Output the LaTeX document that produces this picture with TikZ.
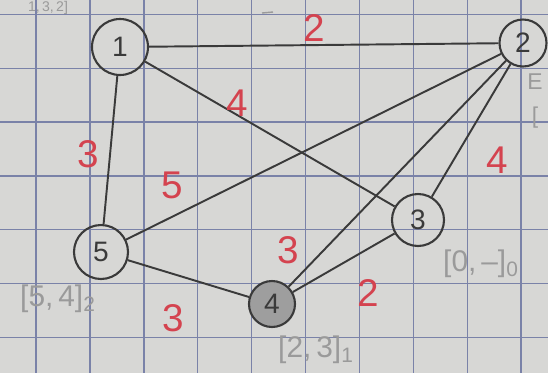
\documentclass[tikz,border=0pt]{standalone}
\usepackage{fontspec}
\setmainfont{Liberation Sans}
\usetikzlibrary{positioning}
\definecolor{paper}{HTML}{D7D7D5}
\definecolor{gridblue}{HTML}{7A82A8}
\definecolor{pencil}{HTML}{3A3A3A}
\definecolor{redink}{HTML}{D4434F}
\definecolor{faint}{HTML}{9A9A9A}
\definecolor{shade}{HTML}{9E9E9E}
\tikzset{
  vertex/.style={circle,draw=pencil,line width=1.2pt,inner sep=0pt,minimum size=1.0cm,font=\fontsize{16}{18}\selectfont,text=pencil},
  visited/.style={vertex,fill=shade},
  edge/.style={line width=1.1pt,draw=pencil},
  weight/.style={text=redink,font=\fontsize{22}{24}\selectfont,inner sep=0pt},
  note/.style={text=faint,font=\fontsize{17}{19}\selectfont,inner sep=0pt},
  gridline/.style={line width=0.8pt,draw=gridblue}
}

\begin{document}
\begin{tikzpicture}[x=0.02cm,y=-0.02cm]
    \fill[paper] (0,0) rectangle (548,373);
    \useasboundingbox (0,0) rectangle (548,373);
    % squared paper
    \foreach \i in {0,...,9}
      \draw[gridline] ({36+53.9*\i},0) -- ({36+53.9*\i},373);
    \foreach \j in {0,...,6}
      \draw[gridline] (0,{14.5+53.8*\j}) -- (548,{14.5+53.8*\j});

    % vertices
    \node[vertex,minimum size=1.12cm] (n1) at (120,47) {1};
    \node[vertex,minimum size=0.94cm] (n2) at (523,43) {2};
    \node[vertex,minimum size=1.04cm] (n3) at (418,220) {3};
    \node[visited,minimum size=0.92cm] (n4) at (272,304) {4};
    \node[vertex,minimum size=1.08cm] (n5) at (101,252) {5};

    \foreach \a/\b in {n1/n2,n1/n5,n1/n3,n2/n5,n2/n3,n2/n4,n3/n4,n5/n4}
      \draw[edge] (\a) -- (\b);

    % weights
    \node[weight] (w12) at (314,28) {2};
    \node[weight] (w15) at (88,154) {3};
    \node[weight] (w13) at (237,103) {4};
    \node[weight] (w25) at (172,185) {5};
    \node[weight] (w23) at (497,160) {4};
    \node[weight] (w24) at (288,250) {3};
    \node[weight] (w34) at (368,293) {2};
    \node[weight] (w54) at (173,318) {3};

    % pencil notes
    \node[note] (t5) at (58,299) {[5,\,4]\textsubscript{2}};
    \node[note] (t4) at (316,350) {[2,\,3]\textsubscript{1}};
    \node[note] (t3) at (481,264) {[0,\,--]\textsubscript{0}};
    \node[note,anchor=north,font=\fontsize{8}{9}\selectfont] (t1) at (48,1) {1,\,3,\,2]};
    \node[note,font=\fontsize{13}{15}\selectfont] (t2a) at (535,82) {E};
    \node[note,font=\fontsize{13}{15}\selectfont] (t2b) at (535,118) {[};
    \draw[faint,line width=0.8pt] (262,13) -- (273,12);
\end{tikzpicture}
\end{document}
